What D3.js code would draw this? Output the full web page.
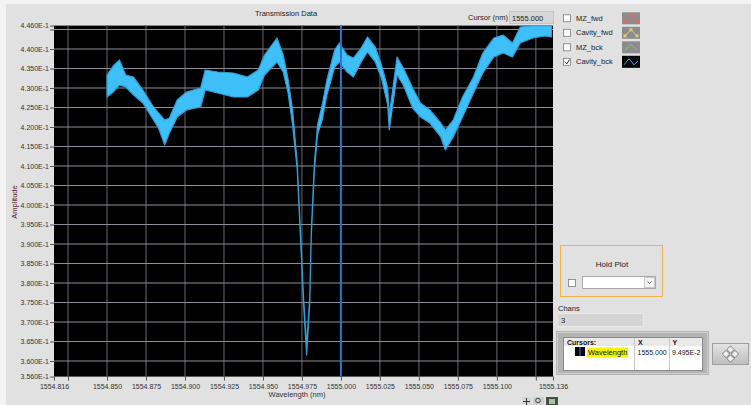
<!DOCTYPE html>
<html>
<head>
<meta charset="utf-8">
<script src="https://cdn.jsdelivr.net/npm/d3@7"></script>
<style>
  body { margin: 0; background: #f3f3f3; }
  svg { display: block; font-family: "Liberation Sans", Arial, sans-serif; }
</style>
</head>
<body>
<div id="chart"></div>
<script>
// wavelength (nm) and upper / lower edge of the noisy trace (amplitude)
const wavelength = [1554.850, 1554.854, 1554.858, 1554.862, 1554.867, 1554.873, 1554.879, 1554.883, 1554.887, 1554.890,
  1554.895, 1554.901, 1554.910, 1554.913, 1554.921, 1554.931, 1554.940, 1554.947, 1554.951, 1554.959,
  1554.963, 1554.966, 1554.969, 1554.972, 1554.974, 1554.976, 1554.978, 1554.980, 1554.981, 1554.983,
  1554.985, 1554.988, 1554.991, 1554.996, 1554.999, 1555.004, 1555.008, 1555.013, 1555.017, 1555.022,
  1555.026, 1555.030, 1555.031, 1555.033, 1555.036, 1555.040, 1555.046, 1555.051, 1555.057, 1555.064,
  1555.067, 1555.072, 1555.078, 1555.085, 1555.091, 1555.098, 1555.104, 1555.110, 1555.115, 1555.123,
  1555.131, 1555.135];
const ampHigh = [0.43333, 0.43564, 0.43718, 0.43333, 0.43282, 0.42949, 0.42564, 0.42359, 0.42179, 0.42231,
  0.42692, 0.42897, 0.43000, 0.43462, 0.43410, 0.43385, 0.43282, 0.43462, 0.43846, 0.44282,
  0.43846, 0.43256, 0.42436, 0.41051, 0.39359, 0.37641, 0.36410, 0.37641, 0.39359, 0.41077,
  0.42051, 0.42564, 0.43205, 0.43974, 0.44154, 0.43846, 0.43769, 0.44026, 0.44308, 0.44051,
  0.43590, 0.43000, 0.42308, 0.42897, 0.43795, 0.43513, 0.43000, 0.42615, 0.42436, 0.42103,
  0.41923, 0.42179, 0.42769, 0.43282, 0.43897, 0.44282, 0.44359, 0.44154, 0.44564, 0.44600,
  0.44600, 0.44600];
const ampLow = [0.42769, 0.42897, 0.43077, 0.43026, 0.42821, 0.42615, 0.42231, 0.41974, 0.41538, 0.41846,
  0.42256, 0.42436, 0.42513, 0.42949, 0.42872, 0.42769, 0.42769, 0.42949, 0.43333, 0.43667,
  0.43410, 0.42897, 0.42051, 0.40897, 0.39205, 0.37487, 0.36154, 0.37487, 0.39205, 0.40897,
  0.41805, 0.42179, 0.42821, 0.43538, 0.43667, 0.43410, 0.43282, 0.43667, 0.43923, 0.43667,
  0.43256, 0.42564, 0.41923, 0.42487, 0.43333, 0.43077, 0.42487, 0.42256, 0.42103, 0.41744,
  0.41410, 0.41744, 0.42256, 0.42872, 0.43385, 0.43795, 0.43897, 0.43795, 0.44154, 0.44282,
  0.44333, 0.44308];

const xTicks = [1554.816, 1554.825, 1554.850, 1554.875, 1554.900, 1554.925, 1554.950, 1554.975,
  1555.000, 1555.025, 1555.050, 1555.075, 1555.100, 1555.125, 1555.136];
const xUnlabeled = [1554.825, 1555.125];
const yTicks = [0.356, 0.360, 0.365, 0.370, 0.375, 0.380, 0.385, 0.390, 0.395, 0.400, 0.405,
  0.410, 0.415, 0.420, 0.425, 0.430, 0.435, 0.440, 0.445, 0.446];
const yUnlabeled = [0.445];

const legendNames = ['MZ_fwd', 'Cavity_fwd', 'MZ_bck', 'Cavity_bck'];
const legendColors = ['#e06a6a', '#dccb7e', '#7fcf7f', '#45b8f5'];
const legendChecked = [false, false, false, true];

const cursorX = 1555.000;
const cursorYText = '9.495E-2';

(function () {

  const W = 751, H = 405;
  const pl = 54, pr = 553, pt = 25.6, pb = 376.6;

  const svg = d3.select('#chart').append('svg')
    .attr('width', W).attr('height', H);

  // panel background
  svg.append('rect').attr('x', 6).attr('y', 4).attr('width', W - 6).attr('height', H - 4)
    .attr('fill', '#e1e1e1');

  const x = d3.scaleLinear().domain([1554.816, 1555.136]).range([pl, pr]);
  const y = d3.scaleLinear().domain([0.356, 0.446]).range([pb, pt]);

  // plot area
  svg.append('rect')
    .attr('x', pl).attr('y', pt)
    .attr('width', pr - pl).attr('height', pb - pt)
    .attr('fill', '#000');

  svg.append('clipPath').attr('id', 'clip')
    .append('rect')
    .attr('x', pl).attr('y', pt)
    .attr('width', pr - pl).attr('height', pb - pt);

  // grid
  const grid = svg.append('g');
  grid.selectAll('.vg')
    .data(xTicks.filter(d => d > 1554.816 && d < 1555.136))
    .enter().append('line')
    .attr('x1', d => x(d)).attr('x2', d => x(d))
    .attr('y1', pt).attr('y2', pb)
    .attr('stroke', '#5f5f6a').attr('stroke-width', 1.1);
  grid.selectAll('.hg')
    .data(yTicks.filter(d => d > 0.356 && d < 0.446))
    .enter().append('line')
    .attr('y1', d => y(d)).attr('y2', d => y(d))
    .attr('x1', pl).attr('x2', pr)
    .attr('stroke', '#8e8e9a').attr('stroke-width', 1.1);

  // trace band
  const trace = wavelength.map((w, i) => [w, ampLow[i], ampHigh[i]]);
  const area = d3.area()
    .x(d => x(d[0]))
    .y0(d => y(d[1]))
    .y1(d => y(d[2]));

  svg.append('g').attr('clip-path', 'url(#clip)')
    .append('path')
    .datum(trace)
    .attr('d', area)
    .attr('fill', '#3fbff8')
    .attr('stroke', '#2f9fd8')
    .attr('stroke-width', 1.2)
    .attr('stroke-linejoin', 'round');

  // cursor line
  svg.append('line')
    .attr('x1', x(cursorX)).attr('x2', x(cursorX))
    .attr('y1', pt).attr('y2', pb)
    .attr('stroke', '#2e72c8').attr('stroke-width', 2);

  // axes
  const fmtY = d => yUnlabeled.includes(d) ? '' : d3.format('.3e')(d).toUpperCase();
  const fmtX = d => xUnlabeled.includes(d) ? '' : d3.format('.3f')(d);

  const yAxis = svg.append('g')
    .attr('transform', `translate(${pl},0)`)
    .call(d3.axisLeft(y).tickValues(yTicks).tickFormat(fmtY).tickSize(4).tickPadding(1));
  const xAxis = svg.append('g')
    .attr('transform', `translate(0,${pb})`)
    .call(d3.axisBottom(x).tickValues(xTicks).tickFormat(fmtX).tickSize(4).tickPadding(3));

  [xAxis, yAxis].forEach(g => {
    g.select('.domain').remove();
    g.selectAll('line').attr('stroke', '#555');
    g.selectAll('text').attr('fill', '#333').style('font-size', '7px')
      .style('font-family', '"Liberation Sans", Arial, sans-serif');
  });

  // titles
  svg.append('text').text('Transmission Data')
    .attr('x', 286).attr('y', 16).attr('text-anchor', 'middle')
    .attr('font-size', 7.5).attr('fill', '#222');
  svg.append('text').text('Wavelength (nm)')
    .attr('x', 297).attr('y', 397).attr('text-anchor', 'middle')
    .attr('font-size', 7.5).attr('fill', '#333');
  svg.append('text').text('Amplitude')
    .attr('transform', 'translate(17,202) rotate(-90)')
    .attr('text-anchor', 'middle')
    .attr('font-size', 7.5).attr('fill', '#5a2a2a');

  // cursor readout
  svg.append('text').text('Cursor (nm)')
    .attr('x', 468).attr('y', 20).attr('font-size', 7.5).attr('fill', '#222');
  svg.append('rect').attr('x', 509.5).attr('y', 11.5).attr('width', 44).attr('height', 12)
    .attr('fill', '#d6d6d6').attr('stroke', '#c4c4c4');
  svg.append('text').text(d3.format('.3f')(cursorX))
    .attr('x', 512).attr('y', 20.5).attr('font-size', 7.5).attr('fill', '#222');

  // legend
  const leg = svg.append('g');
  legendNames.forEach((name, i) => {
    const cy = 18.3 + i * 14.5;
    leg.append('rect').attr('x', 563.5).attr('y', cy - 3.5).attr('width', 7).attr('height', 7)
      .attr('fill', '#fff').attr('stroke', '#7a7a7a').attr('stroke-width', 0.8);
    if (legendChecked[i]) {
      leg.append('path').attr('d', `M565,${cy} L566.8,${cy + 2} L569.5,${cy - 2.2}`)
        .attr('fill', 'none').attr('stroke', '#222').attr('stroke-width', 1);
    }
    leg.append('text').text(name).attr('x', 576).attr('y', cy + 2.6)
      .attr('font-size', 7.5).attr('fill', '#222');
    const sx = 622, sw = 18;
    leg.append('rect').attr('x', sx).attr('y', cy - 6).attr('width', sw).attr('height', 12)
      .attr('fill', legendChecked[i] ? '#000' : '#8c8c8c');
    const pts = i === 3
      ? [[sx + 2, cy + 3], [sx + 7, cy - 3], [sx + 12, cy + 3], [sx + 16, cy - 1]]
      : [[sx + 3, cy + 3], [sx + 9, cy - 3], [sx + 15, cy + 3]];
    leg.append('path').attr('d', d3.line()(pts))
      .attr('fill', 'none').attr('stroke', legendColors[i]).attr('stroke-width', 1);
    if (i < 2) {
      pts.forEach(p => leg.append('rect')
        .attr('x', p[0] - 1.5).attr('y', p[1] - 1.5).attr('width', 3).attr('height', 3)
        .attr('fill', legendColors[i]));
    }
  });

  // hold plot box
  svg.append('rect').attr('x', 560.5).attr('y', 245.5).attr('width', 102).attr('height', 51)
    .attr('fill', 'none').attr('stroke', '#f0b44c').attr('stroke-width', 1);
  svg.append('text').text('Hold Plot').attr('x', 612).attr('y', 267)
    .attr('text-anchor', 'middle').attr('font-size', 8).attr('fill', '#222');
  svg.append('rect').attr('x', 568.5).attr('y', 279.5).attr('width', 7).attr('height', 7)
    .attr('fill', '#fff').attr('stroke', '#7a7a7a').attr('stroke-width', 0.8);
  svg.append('rect').attr('x', 582.5).attr('y', 276.5).attr('width', 73).attr('height', 12)
    .attr('fill', '#fff').attr('stroke', '#a8a8a8');
  svg.append('rect').attr('x', 644.5).attr('y', 277.5).attr('width', 10).attr('height', 10)
    .attr('fill', '#f2f2f2').attr('stroke', '#c8c8c8');
  svg.append('path').attr('d', 'M647.5,281.5 L649.5,283.5 L651.5,281.5')
    .attr('fill', 'none').attr('stroke', '#555').attr('stroke-width', 0.9);

  // chans
  svg.append('text').text('Chans').attr('x', 558).attr('y', 310.5)
    .attr('font-size', 7.5).attr('fill', '#222');
  svg.append('rect').attr('x', 557.5).attr('y', 313.5).attr('width', 86).attr('height', 13)
    .attr('fill', '#d5d5d5').attr('stroke', '#e8e8e8');
  svg.append('text').text('3').attr('x', 561).attr('y', 323)
    .attr('font-size', 7.5).attr('fill', '#222');

  // cursor table
  svg.append('rect').attr('x', 556).attr('y', 331).attr('width', 153).attr('height', 44)
    .attr('fill', '#b4b4b4');
  svg.append('rect').attr('x', 557.5).attr('y', 332.5).attr('width', 150).attr('height', 41)
    .attr('fill', 'none').attr('stroke', '#cfcfcf');
  svg.append('rect').attr('x', 563.5).attr('y', 337.5).attr('width', 139).attr('height', 33)
    .attr('fill', '#fff').attr('stroke', '#8a8a8a');
  svg.append('rect').attr('x', 564).attr('y', 338).attr('width', 138).attr('height', 8)
    .attr('fill', '#e9e9e9');
  [634, 669].forEach(cx => {
    svg.append('line').attr('x1', cx + 0.5).attr('x2', cx + 0.5).attr('y1', 338).attr('y2', 370)
      .attr('stroke', '#c9c9c9');
  });
  svg.append('text').text('Cursors:').attr('x', 567).attr('y', 344.5)
    .attr('font-size', 7).attr('font-weight', 'bold').attr('fill', '#111');
  svg.append('text').text('X').attr('x', 638).attr('y', 344.5)
    .attr('font-size', 7).attr('font-weight', 'bold').attr('fill', '#111');
  svg.append('text').text('Y').attr('x', 672.5).attr('y', 344.5)
    .attr('font-size', 7).attr('font-weight', 'bold').attr('fill', '#111');
  svg.append('rect').attr('x', 575).attr('y', 347).attr('width', 10).attr('height', 9)
    .attr('fill', '#000');
  svg.append('line').attr('x1', 580).attr('x2', 580).attr('y1', 347).attr('y2', 356)
    .attr('stroke', '#3a86e0').attr('stroke-width', 1);
  svg.append('rect').attr('x', 587).attr('y', 347.5).attr('width', 41).attr('height', 10)
    .attr('fill', '#f7f300');
  svg.append('text').text('Wavelength').attr('x', 588).attr('y', 355)
    .attr('font-size', 7.5).attr('fill', '#111');
  svg.append('text').text(d3.format('.3f')(cursorX)).attr('x', 637.5).attr('y', 355)
    .attr('font-size', 7).attr('fill', '#111');
  svg.append('text').text(cursorYText).attr('x', 672).attr('y', 355)
    .attr('font-size', 7).attr('fill', '#111');

  // navigation button
  const grad = svg.append('defs').append('linearGradient').attr('id', 'btn')
    .attr('x1', 0).attr('y1', 0).attr('x2', 0).attr('y2', 1);
  grad.append('stop').attr('offset', 0).attr('stop-color', '#e4e4e4');
  grad.append('stop').attr('offset', 1).attr('stop-color', '#bdbdbd');
  svg.append('rect').attr('x', 712.5).attr('y', 343.5).attr('width', 36).attr('height', 21)
    .attr('fill', 'url(#btn)').attr('stroke', '#a0a0a0');
  [[0, -4.5], [4.5, 0], [0, 4.5], [-4.5, 0]].forEach(o => {
    svg.append('rect').attr('x', -2.6).attr('y', -2.6).attr('width', 5.2).attr('height', 5.2)
      .attr('transform', `translate(${730.5 + o[0]},${354 + o[1]}) rotate(45)`)
      .attr('fill', '#f0f0f0').attr('stroke', '#6a6a6a').attr('stroke-width', 0.8);
  });

  // graph palette icons
  svg.append('rect').attr('x', 522).attr('y', 397).attr('width', 9).attr('height', 8).attr('fill', '#d8d8d8');
  svg.append('path').attr('d', 'M526.5,398 V405 M523,401.5 H530').attr('stroke', '#333').attr('stroke-width', 1);
  svg.append('rect').attr('x', 533).attr('y', 397).attr('width', 11).attr('height', 8).attr('fill', '#cfcfcf');
  svg.append('circle').attr('cx', 538).attr('cy', 400.5).attr('r', 2.3)
    .attr('fill', 'none').attr('stroke', '#333').attr('stroke-width', 0.9);
  svg.append('rect').attr('x', 546).attr('y', 397).attr('width', 12).attr('height', 8).attr('fill', '#4a4a4a');
  svg.append('rect').attr('x', 549).attr('y', 399).attr('width', 6).attr('height', 5).attr('fill', '#9ac89a');

})();
</script>
</body>
</html>
